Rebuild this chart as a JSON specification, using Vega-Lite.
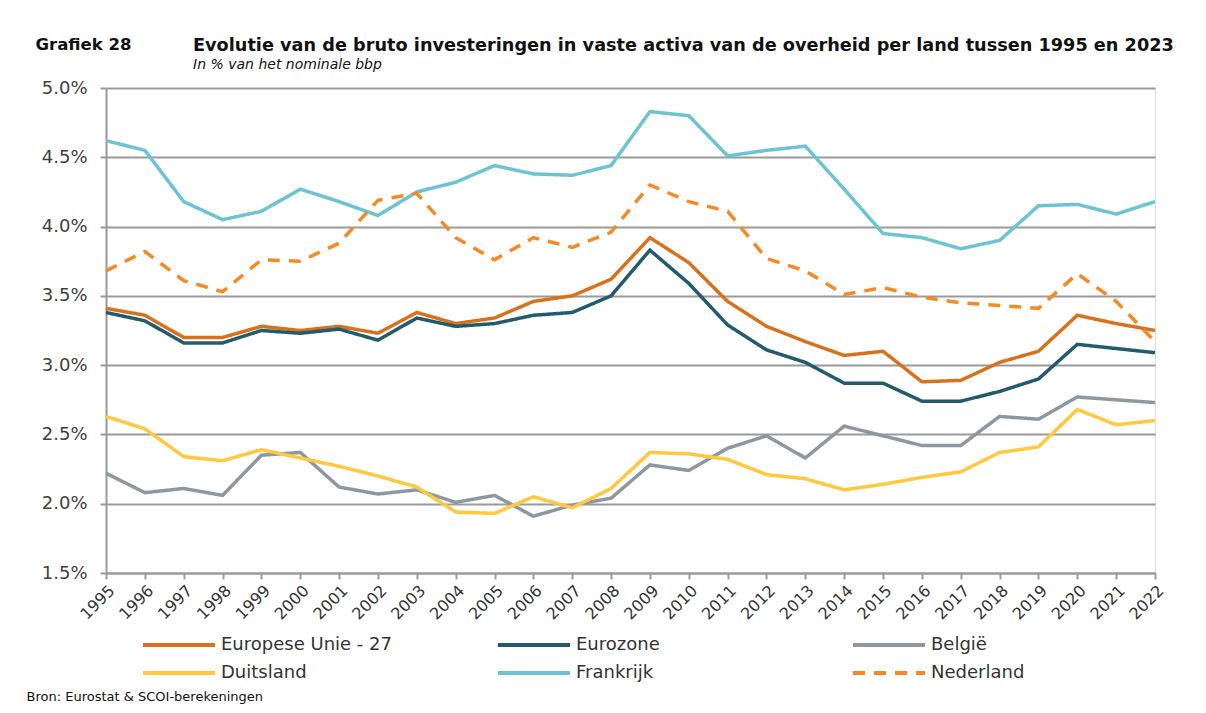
{
  "$schema": "https://vega.github.io/schema/vega-lite/v6.json",
  "autosize": "none",
  "padding": {"left": 106, "top": 88, "right": 51, "bottom": 140},
  "width": 1049,
  "height": 485,
  "background": "white",
  "title": {
    "text": "Evolutie van de bruto investeringen in vaste activa van de overheid per land tussen 1995 en 2023",
    "subtitle": "In % van het nominale bbp",
    "anchor": "start",
    "frame": "group",
    "dx": 87,
    "offset": -36,
    "font": "DejaVu Sans",
    "fontSize": 17.7,
    "fontWeight": "bold",
    "color": "#111111",
    "subtitleFont": "DejaVu Sans",
    "subtitleFontSize": 14,
    "subtitleFontStyle": "italic",
    "subtitleColor": "#111111",
    "subtitlePadding": 3
  },
  "data": {
    "values": [
      {"jaar": "1995", "Europese Unie - 27": 3.41, "Eurozone": 3.38, "België": 2.22, "Duitsland": 2.63, "Frankrijk": 4.62, "Nederland": 3.68},
      {"jaar": "1996", "Europese Unie - 27": 3.36, "Eurozone": 3.32, "België": 2.08, "Duitsland": 2.54, "Frankrijk": 4.55, "Nederland": 3.82},
      {"jaar": "1997", "Europese Unie - 27": 3.20, "Eurozone": 3.16, "België": 2.11, "Duitsland": 2.34, "Frankrijk": 4.18, "Nederland": 3.61},
      {"jaar": "1998", "Europese Unie - 27": 3.20, "Eurozone": 3.16, "België": 2.06, "Duitsland": 2.31, "Frankrijk": 4.05, "Nederland": 3.53},
      {"jaar": "1999", "Europese Unie - 27": 3.28, "Eurozone": 3.25, "België": 2.35, "Duitsland": 2.39, "Frankrijk": 4.11, "Nederland": 3.76},
      {"jaar": "2000", "Europese Unie - 27": 3.25, "Eurozone": 3.23, "België": 2.37, "Duitsland": 2.33, "Frankrijk": 4.27, "Nederland": 3.75},
      {"jaar": "2001", "Europese Unie - 27": 3.28, "Eurozone": 3.26, "België": 2.12, "Duitsland": 2.27, "Frankrijk": 4.18, "Nederland": 3.88},
      {"jaar": "2002", "Europese Unie - 27": 3.23, "Eurozone": 3.18, "België": 2.07, "Duitsland": 2.20, "Frankrijk": 4.08, "Nederland": 4.19},
      {"jaar": "2003", "Europese Unie - 27": 3.38, "Eurozone": 3.34, "België": 2.10, "Duitsland": 2.12, "Frankrijk": 4.25, "Nederland": 4.24},
      {"jaar": "2004", "Europese Unie - 27": 3.30, "Eurozone": 3.28, "België": 2.01, "Duitsland": 1.94, "Frankrijk": 4.32, "Nederland": 3.92},
      {"jaar": "2005", "Europese Unie - 27": 3.34, "Eurozone": 3.30, "België": 2.06, "Duitsland": 1.93, "Frankrijk": 4.44, "Nederland": 3.76},
      {"jaar": "2006", "Europese Unie - 27": 3.46, "Eurozone": 3.36, "België": 1.91, "Duitsland": 2.05, "Frankrijk": 4.38, "Nederland": 3.92},
      {"jaar": "2007", "Europese Unie - 27": 3.50, "Eurozone": 3.38, "België": 1.99, "Duitsland": 1.97, "Frankrijk": 4.37, "Nederland": 3.85},
      {"jaar": "2008", "Europese Unie - 27": 3.62, "Eurozone": 3.50, "België": 2.04, "Duitsland": 2.11, "Frankrijk": 4.44, "Nederland": 3.96},
      {"jaar": "2009", "Europese Unie - 27": 3.92, "Eurozone": 3.83, "België": 2.28, "Duitsland": 2.37, "Frankrijk": 4.83, "Nederland": 4.30},
      {"jaar": "2010", "Europese Unie - 27": 3.74, "Eurozone": 3.59, "België": 2.24, "Duitsland": 2.36, "Frankrijk": 4.80, "Nederland": 4.18},
      {"jaar": "2011", "Europese Unie - 27": 3.46, "Eurozone": 3.29, "België": 2.40, "Duitsland": 2.32, "Frankrijk": 4.51, "Nederland": 4.11},
      {"jaar": "2012", "Europese Unie - 27": 3.28, "Eurozone": 3.11, "België": 2.49, "Duitsland": 2.21, "Frankrijk": 4.55, "Nederland": 3.77},
      {"jaar": "2013", "Europese Unie - 27": 3.17, "Eurozone": 3.02, "België": 2.33, "Duitsland": 2.18, "Frankrijk": 4.58, "Nederland": 3.68},
      {"jaar": "2014", "Europese Unie - 27": 3.07, "Eurozone": 2.87, "België": 2.56, "Duitsland": 2.10, "Frankrijk": 4.27, "Nederland": 3.51},
      {"jaar": "2015", "Europese Unie - 27": 3.10, "Eurozone": 2.87, "België": 2.49, "Duitsland": 2.14, "Frankrijk": 3.95, "Nederland": 3.56},
      {"jaar": "2016", "Europese Unie - 27": 2.88, "Eurozone": 2.74, "België": 2.42, "Duitsland": 2.19, "Frankrijk": 3.92, "Nederland": 3.49},
      {"jaar": "2017", "Europese Unie - 27": 2.89, "Eurozone": 2.74, "België": 2.42, "Duitsland": 2.23, "Frankrijk": 3.84, "Nederland": 3.45},
      {"jaar": "2018", "Europese Unie - 27": 3.02, "Eurozone": 2.81, "België": 2.63, "Duitsland": 2.37, "Frankrijk": 3.90, "Nederland": 3.43},
      {"jaar": "2019", "Europese Unie - 27": 3.10, "Eurozone": 2.90, "België": 2.61, "Duitsland": 2.41, "Frankrijk": 4.15, "Nederland": 3.41},
      {"jaar": "2020", "Europese Unie - 27": 3.36, "Eurozone": 3.15, "België": 2.77, "Duitsland": 2.68, "Frankrijk": 4.16, "Nederland": 3.66},
      {"jaar": "2021", "Europese Unie - 27": 3.30, "Eurozone": 3.12, "België": 2.75, "Duitsland": 2.57, "Frankrijk": 4.09, "Nederland": 3.46},
      {"jaar": "2022", "Europese Unie - 27": 3.25, "Eurozone": 3.09, "België": 2.73, "Duitsland": 2.60, "Frankrijk": 4.18, "Nederland": 3.17}
    ]
  },
  "transform": [
    {"fold": ["Europese Unie - 27", "Eurozone", "België", "Duitsland", "Frankrijk", "Nederland"], "as": ["land", "waarde"]}
  ],
  "mark": {"type": "line", "strokeWidth": 3.5, "strokeJoin": "miter", "strokeCap": "butt"},
  "encoding": {
    "x": {
      "field": "jaar",
      "type": "ordinal",
      "scale": {"type": "point", "padding": 0},
      "axis": {
        "title": "Bron: Eurostat & SCOI-berekeningen",
        "titleX": -80,
        "titleY": 123,
        "titleAlign": "left",
        "titleAnchor": "start",
        "titleBaseline": "middle",
        "titleFont": "DejaVu Sans",
        "titleFontSize": 13,
        "titleFontWeight": "normal",
        "titleColor": "#111111",
        "labelAngle": -45,
        "labelFont": "DejaVu Sans",
        "labelFontSize": 16,
        "labelColor": "#333333",
        "labelPadding": 3,
        "domainColor": "#9a9a9a",
        "domainWidth": 2,
        "tickColor": "#9a9a9a",
        "tickWidth": 2,
        "tickSize": 6,
        "grid": false
      }
    },
    "y": {
      "field": "waarde",
      "type": "quantitative",
      "scale": {"domain": [1.5, 5.0], "nice": false, "zero": false},
      "axis": {
        "values": [1.5, 2.0, 2.5, 3.0, 3.5, 4.0, 4.5, 5.0],
        "labelExpr": "format(datum.value, '.1f') + '%'",
        "title": "Grafiek 28",
        "titleAngle": 0,
        "titleX": -71,
        "titleY": -52,
        "titleAlign": "left",
        "titleBaseline": "top",
        "titleFont": "DejaVu Sans",
        "titleFontSize": 16.5,
        "titleFontWeight": "bold",
        "titleColor": "#111111",
        "labelFont": "DejaVu Sans",
        "labelFontSize": 18,
        "labelColor": "#404040",
        "labelPadding": 13,
        "domainColor": "#9a9a9a",
        "domainWidth": 2,
        "tickColor": "#9a9a9a",
        "tickWidth": 2,
        "tickSize": 6,
        "grid": true,
        "gridColor": "#9a9a9a",
        "gridWidth": 2
      }
    },
    "color": {
      "field": "land",
      "type": "nominal",
      "sort": ["Europese Unie - 27", "Eurozone", "België", "Duitsland", "Frankrijk", "Nederland"],
      "scale": {
        "domain": ["Europese Unie - 27", "Eurozone", "België", "Duitsland", "Frankrijk", "Nederland"],
        "range": ["#D8711C", "#215B6C", "#8D97A2", "#FFC83D", "#6CC3D3", "#F58A25"]
      },
      "legend": {
        "title": null,
        "orient": "none",
        "legendX": 59,
        "legendY": 543,
        "direction": "horizontal",
        "columns": 3,
        "gridAlign": "all",
        "columnPadding": 98,
        "rowPadding": 5,
        "symbolType": "M-3,0L3,0",
        "symbolSize": 576,
        "symbolStrokeWidth": 4,
        "labelFont": "DejaVu Sans",
        "labelFontSize": 18,
        "labelColor": "#333333",
        "labelOffset": 28,
        "labelLimit": 300
      }
    },
    "strokeDash": {
      "field": "land",
      "type": "nominal",
      "sort": ["Europese Unie - 27", "Eurozone", "België", "Duitsland", "Frankrijk", "Nederland"],
      "scale": {
        "domain": ["Europese Unie - 27", "Eurozone", "België", "Duitsland", "Frankrijk", "Nederland"],
        "range": [[1, 0], [1, 0], [1, 0], [1, 0], [1, 0], [12, 9]]
      },
      "legend": null
    }
  }
}
